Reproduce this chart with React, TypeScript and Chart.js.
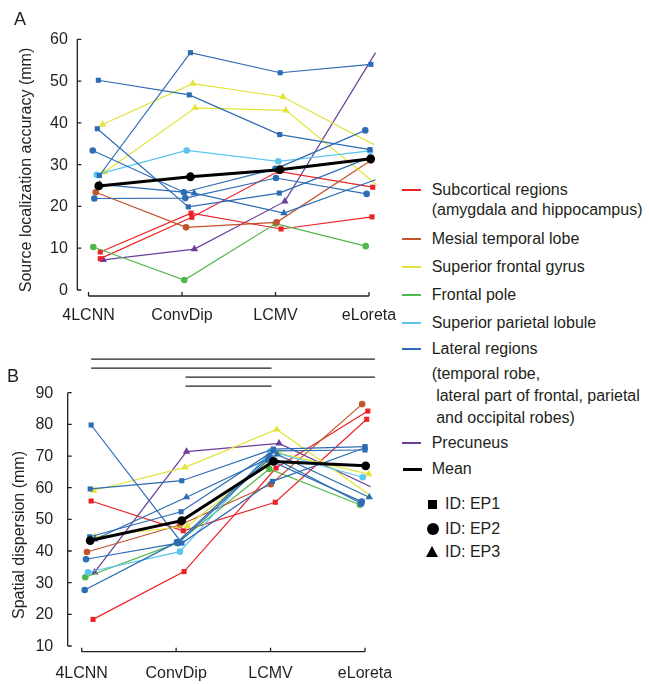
import React, { useEffect, useRef } from 'react';
import { Chart, registerables } from 'chart.js';

Chart.register(...registerables);

// ---------------- DATA ----------------
const categories = ['4LCNN', 'ConvDip', 'LCMV', 'eLoreta'];
const yTicksA = [0, 10, 20, 30, 40, 50, 60];
const yTicksB = [10, 20, 30, 40, 50, 60, 70, 80, 90];
const titleA = 'Source localization accuracy (mm)';
const titleB = 'Spatial dispersion (mm)';
// significance comparisons (1-based category indices)
const sigPairs = [[1, 4], [1, 3], [2, 4], [2, 3]];

// Panel A: source localization accuracy (mm)
const accMean = [24.9, 27.1, 28.8, 31.4];
const accLateralEP1a = [50.2, 46.7, 37.2, 33.6];
const accLateralEP1b = [27.4, 56.8, 52.0, 54.0];
const accLateralEP1c = [38.6, 19.9, 23.2, 31.8];
const accLateralEP2a = [33.4, 23.4, 29.0, 38.2];
const accLateralEP2b = [21.9, 22.0, 26.8, 23.0];
const accLateralEP3 = [25.3, 23.2, 18.4, 26.4];
const accParietalEP2 = [27.6, 33.4, 30.8, 33.3];
const accGyrusEP3a = [39.6, 49.4, 46.2, 34.8];
const accGyrusEP3b = [28.2, 43.6, 43.0, 25.2];
const accMesialEP2 = [23.4, 15.0, 16.2, 31.0];
const accPoleEP2 = [10.3, 2.4, 15.9, 10.5];
const accSubcortEP1a = [9.1, 18.4, 14.6, 17.5];
const accSubcortEP1b = [7.5, 17.4, 28.4, 24.6];
const accPrecuneusEP3 = [7.2, 9.8, 21.2, 56.8];

// Panel A horizontal jitter (category units)
const jitAMean = [0.11, 0.09, 0.048, 0.018];
const jitALatEP1a = [0.105, 0.078, 0.045, 0.01];
const jitALatEP1b = [0.116, 0.09, 0.05, 0.02];
const jitALatEP1c = [0.094, 0.067, 0.04, 0.02];
const jitALatEP2a = [0.045, 0.02, 0.0, -0.04];
const jitALatEP2b = [0.062, 0.035, 0.005, -0.025];
const jitALatEP3 = [0.12, 0.13, 0.09, 0.07];
const jitAParEP2 = [0.088, 0.05, 0.03, 0.01];
const jitAGyrEP3a = [0.15, 0.115, 0.08, 0.053];
const jitAGyrEP3b = [0.17, 0.14, 0.11, 0.083];
const jitAMesEP2 = [0.077, 0.043, 0.012, 0.02];
const jitAPoleEP2 = [0.051, 0.025, 0.002, -0.035];
const jitASubEP1a = [0.126, 0.097, 0.059, 0.032];
const jitASubEP1b = [0.126, 0.105, 0.03, 0.04];
const jitAPreEP3 = [0.158, 0.132, 0.1, 0.07];

// Panel B: spatial dispersion (mm)
const dispMean = [43.3, 49.6, 68.3, 66.9];
const dispLateralEP1a = [79.8, 42.5, 62.0, 72.6];
const dispLateralEP1b = [59.6, 62.2, 72.2, 73.0];
const dispLateralEP1c = [44.5, 52.4, 71.6, 71.9];
const dispLateralEP2a = [37.4, 42.5, 68.8, 55.6];
const dispLateralEP2b = [27.7, 42.8, 70.0, 55.0];
const dispLateralEP3 = [43.7, 57.0, 70.5, 57.0];
const dispParietalEP2 = [33.3, 39.8, 71.5, 63.3];
const dispGyrusEP3a = [59.1, 66.4, 78.4, 57.4];
const dispGyrusEP3b = [44.5, 47.9, 70.9, 64.3];
const dispMesialEP2 = [39.7, 48.2, 61.1, 86.4];
const dispPoleEP2 = [31.7, 42.5, 65.9, 54.6];
const dispSubcortEP1a = [55.8, 46.4, 55.4, 81.6];
const dispSubcortEP1b = [18.4, 33.5, 66.2, 84.2];
const dispPrecuneusEP3 = [33.3, 71.4, 74.0, 60.3];

// Panel B horizontal jitter (category units)
const jitBMean = [0.09, 0.06, 0.03, 0.007];
const jitBLatEP1a = [0.1, 0.062, 0.02, 0.0];
const jitBLatEP1b = [0.09, 0.06, 0.03, 0.0];
const jitBLatEP1c = [0.085, 0.052, 0.03, 0.0];
const jitBLatEP2a = [0.046, 0.02, -0.026, -0.035];
const jitBLatEP2b = [0.032, 0.01, -0.01, -0.04];
const jitBLatEP3 = [0.14, 0.11, 0.07, 0.045];
const jitBParEP2 = [0.067, 0.04, 0.0, -0.024];
const jitBGyrEP3a = [0.127, 0.094, 0.066, 0.064];
const jitBGyrEP3b = [0.14, 0.12, 0.093, 0.04];
const jitBMesEP2 = [0.056, 0.04, 0.002, -0.03];
const jitBPoleEP2 = [0.038, 0.01, -0.013, -0.053];
const jitBSubEP1a = [0.1, 0.076, 0.05, 0.018];
const jitBSubEP1b = [0.12, 0.084, 0.058, 0.03];
const jitBPreEP3 = [0.138, 0.11, 0.09, 0.06];

// legend texts
const legendRegionKeys = ['subcortical', 'mesial', 'gyrus', 'pole', 'parietal', 'lateral', 'precuneus', 'mean'];
const legendRegionLines = [
  ['Subcortical regions', '(amygdala and hippocampus)'],
  ['Mesial temporal lobe'],
  ['Superior frontal gyrus'],
  ['Frontal pole'],
  ['Superior parietal lobule'],
  ['Lateral regions', '(temporal robe,', ' lateral part of frontal, parietal', ' and occipital robes)'],
  ['Precuneus'],
  ['Mean'],
];
const legendIdShapes = ['rect', 'circle', 'triangle'];
const legendIdLabels = ['ID: EP1', 'ID: EP2', 'ID: EP3'];

// ---------------- STYLE ----------------
type Shape = 'rect' | 'circle' | 'triangle';
interface Series { region: string; shape: Shape; values: number[]; jitter: number[] }

const COLORS: Record<string, string> = {
  subcortical: '#ec2227',
  mesial: '#c2532a',
  gyrus: '#e3e33a',
  pole: '#52b74a',
  parietal: '#5bc5ef',
  lateral: '#2c6cb4',
  precuneus: '#6a3e98',
  mean: '#000000',
};
const TEXT = '#231f20';
const FONT = '"Liberation Sans", Arial, Helvetica, sans-serif';

const seriesA: Series[] = [
  { region: 'lateral', shape: 'rect', values: accLateralEP1a, jitter: jitALatEP1a },
  { region: 'lateral', shape: 'rect', values: accLateralEP1b, jitter: jitALatEP1b },
  { region: 'lateral', shape: 'rect', values: accLateralEP1c, jitter: jitALatEP1c },
  { region: 'lateral', shape: 'circle', values: accLateralEP2a, jitter: jitALatEP2a },
  { region: 'lateral', shape: 'circle', values: accLateralEP2b, jitter: jitALatEP2b },
  { region: 'lateral', shape: 'triangle', values: accLateralEP3, jitter: jitALatEP3 },
  { region: 'parietal', shape: 'circle', values: accParietalEP2, jitter: jitAParEP2 },
  { region: 'gyrus', shape: 'triangle', values: accGyrusEP3a, jitter: jitAGyrEP3a },
  { region: 'gyrus', shape: 'triangle', values: accGyrusEP3b, jitter: jitAGyrEP3b },
  { region: 'mesial', shape: 'circle', values: accMesialEP2, jitter: jitAMesEP2 },
  { region: 'pole', shape: 'circle', values: accPoleEP2, jitter: jitAPoleEP2 },
  { region: 'subcortical', shape: 'rect', values: accSubcortEP1a, jitter: jitASubEP1a },
  { region: 'subcortical', shape: 'rect', values: accSubcortEP1b, jitter: jitASubEP1b },
  { region: 'precuneus', shape: 'triangle', values: accPrecuneusEP3, jitter: jitAPreEP3 },
];

const seriesB: Series[] = [
  { region: 'lateral', shape: 'rect', values: dispLateralEP1a, jitter: jitBLatEP1a },
  { region: 'lateral', shape: 'rect', values: dispLateralEP1b, jitter: jitBLatEP1b },
  { region: 'lateral', shape: 'rect', values: dispLateralEP1c, jitter: jitBLatEP1c },
  { region: 'lateral', shape: 'circle', values: dispLateralEP2a, jitter: jitBLatEP2a },
  { region: 'lateral', shape: 'circle', values: dispLateralEP2b, jitter: jitBLatEP2b },
  { region: 'lateral', shape: 'triangle', values: dispLateralEP3, jitter: jitBLatEP3 },
  { region: 'parietal', shape: 'circle', values: dispParietalEP2, jitter: jitBParEP2 },
  { region: 'gyrus', shape: 'triangle', values: dispGyrusEP3a, jitter: jitBGyrEP3a },
  { region: 'gyrus', shape: 'triangle', values: dispGyrusEP3b, jitter: jitBGyrEP3b },
  { region: 'mesial', shape: 'circle', values: dispMesialEP2, jitter: jitBMesEP2 },
  { region: 'pole', shape: 'circle', values: dispPoleEP2, jitter: jitBPoleEP2 },
  { region: 'subcortical', shape: 'rect', values: dispSubcortEP1a, jitter: jitBSubEP1a },
  { region: 'subcortical', shape: 'rect', values: dispSubcortEP1b, jitter: jitBSubEP1b },
  { region: 'precuneus', shape: 'triangle', values: dispPrecuneusEP3, jitter: jitBPreEP3 },
];

const radiusFor = (s: Shape) => (s === 'rect' ? 3.6 : s === 'circle' ? 3.3 : 4.3);

function buildDatasets(series: Series[], mean: number[], meanJit: number[]) {
  const ds: any[] = [
    {
      data: mean.map((v, i) => ({ x: i + 1 + meanJit[i], y: v })),
      borderColor: COLORS.mean,
      backgroundColor: COLORS.mean,
      borderWidth: 3,
      pointStyle: 'circle',
      pointRadius: 4.4,
      pointBorderWidth: 0,
      pointBackgroundColor: COLORS.mean,
      clip: false,
    },
  ];
  series.forEach((s) => {
    const c = COLORS[s.region];
    ds.push({
      data: s.values.map((v, i) => ({ x: i + 1 + s.jitter[i], y: v })),
      borderColor: c,
      backgroundColor: c,
      borderWidth: 1.2,
      pointStyle: s.shape,
      pointRadius: radiusFor(s.shape),
      pointBorderWidth: 0,
      pointBackgroundColor: c,
      clip: false,
    });
  });
  return ds;
}

interface AxesCfg {
  yTicks: number[];
  yLabelGap: number;
  xAxisGap: number;
  xLabelY: number;
  title: string;
  titleX: number;
  titleY: number;
  sig?: boolean;
}

function makeAxesPlugin(p: AxesCfg) {
  return {
    id: 'customAxes',
    beforeDatasetsDraw(chart: any) {
      const { ctx, chartArea, scales } = chart;
      const xs = scales.x;
      const ys = scales.y;
      ctx.save();
      ctx.strokeStyle = TEXT;
      ctx.fillStyle = TEXT;
      ctx.lineWidth = 1.3;
      ctx.font = `16px ${FONT}`;
      // y axis
      const ax = chartArea.left;
      ctx.beginPath();
      ctx.moveTo(ax, ys.getPixelForValue(p.yTicks[p.yTicks.length - 1]));
      ctx.lineTo(ax, ys.getPixelForValue(p.yTicks[0]));
      p.yTicks.forEach((t) => {
        const py = ys.getPixelForValue(t);
        ctx.moveTo(ax, py);
        ctx.lineTo(ax + 4, py);
      });
      ctx.stroke();
      ctx.textAlign = 'right';
      ctx.textBaseline = 'middle';
      p.yTicks.forEach((t) => ctx.fillText(String(t), ax - p.yLabelGap, ys.getPixelForValue(t) + 0.5));
      // x axis
      const ay = chartArea.bottom + p.xAxisGap;
      const x0 = xs.getPixelForValue(1);
      const x1 = xs.getPixelForValue(categories.length);
      ctx.beginPath();
      ctx.moveTo(x0, ay);
      ctx.lineTo(x1, ay);
      categories.forEach((_c, i) => {
        const px = xs.getPixelForValue(i + 1);
        ctx.moveTo(px, ay);
        ctx.lineTo(px, ay - 4);
      });
      ctx.stroke();
      ctx.textAlign = 'center';
      categories.forEach((c, i) => ctx.fillText(c, xs.getPixelForValue(i + 1), p.xLabelY));
      // y title
      ctx.save();
      ctx.translate(p.titleX, p.titleY);
      ctx.rotate(-Math.PI / 2);
      ctx.fillText(p.title, 0, 0);
      ctx.restore();
      // significance lines
      if (p.sig) {
        ctx.lineWidth = 1.3;
        sigPairs.forEach(([a, b], k) => {
          const yy = chartArea.top - 33.5 + k * 9;
          const xa = xs.getPixelForValue(a + 0.1);
          const xb = xs.getPixelForValue(b + (b === categories.length ? 0.105 : 0.01));
          ctx.beginPath();
          ctx.moveTo(xa, yy);
          ctx.lineTo(xb, yy);
          ctx.stroke();
        });
      }
      ctx.restore();
    },
  };
}

function Panel(props: {
  top: number;
  width: number;
  height: number;
  padding: { left: number; right: number; top: number; bottom: number };
  xMin: number;
  yMin: number;
  yMax: number;
  datasets: any[];
  axes: AxesCfg;
}) {
  const ref = useRef<HTMLCanvasElement | null>(null);
  useEffect(() => {
    if (!ref.current) return;
    const chart = new Chart(ref.current, {
      type: 'line',
      data: { datasets: props.datasets },
      options: {
        animation: false,
        responsive: false,
        devicePixelRatio: 1,
        layout: { padding: props.padding },
        plugins: { legend: { display: false }, tooltip: { enabled: false } },
        scales: {
          x: { type: 'linear', min: props.xMin, max: categories.length, display: false },
          y: { type: 'linear', min: props.yMin, max: props.yMax, display: false },
        },
        elements: { line: { tension: 0 } },
      },
      plugins: [makeAxesPlugin(props.axes)],
    } as any);
    return () => chart.destroy();
  }, []);
  return (
    <canvas
      ref={ref}
      width={props.width}
      height={props.height}
      style={{ position: 'absolute', left: 0, top: props.top, width: props.width, height: props.height }}
    />
  );
}

// legend layout (pixel centers of each text row)
const regionRowY = [[190, 209.5], [238.7], [267], [295.3], [323.3], [349.3, 373.5, 395.5, 418.3], [442.7], [469.3]];
const idRowY = [504, 528.7, 552];

function Marker({ shape, cx, cy }: { shape: string; cx: number; cy: number }) {
  if (shape === 'rect') {
    return <div style={{ position: 'absolute', left: cx - 4.5, top: cy - 4.5, width: 9, height: 9, background: '#000' }} />;
  }
  if (shape === 'circle') {
    return <div style={{ position: 'absolute', left: cx - 6, top: cy - 6, width: 12, height: 12, borderRadius: 6, background: '#000' }} />;
  }
  return (
    <div
      style={{
        position: 'absolute',
        left: cx - 6.5,
        top: cy - 6,
        width: 0,
        height: 0,
        borderLeft: '6.5px solid transparent',
        borderRight: '6.5px solid transparent',
        borderBottom: '11px solid #000',
      }}
    />
  );
}

export default function App() {
  const textStyle = (left: number, cy: number): React.CSSProperties => ({
    position: 'absolute',
    left,
    top: cy - 9,
    fontSize: 16,
    lineHeight: '18px',
    fontFamily: FONT,
    color: TEXT,
    whiteSpace: 'pre',
  });
  return (
    <div style={{ position: 'fixed', left: 0, top: 0, width: 649, height: 684, background: '#fff', overflow: 'hidden' }}>
      <Panel
        top={0}
        width={400}
        height={330}
        padding={{ left: 77.3, right: 31, top: 39.3, bottom: 40 }}
        xMin={0.88}
        yMin={0}
        yMax={60}
        datasets={buildDatasets(seriesA, accMean, jitAMean)}
        axes={{ yTicks: yTicksA, yLabelGap: 9.5, xAxisGap: 6, xLabelY: 315.5, title: titleA, titleX: 27, titleY: 170 }}
      />
      <Panel
        top={330}
        width={400}
        height={354}
        padding={{ left: 67.7, right: 35, top: 62.7, bottom: 38 }}
        xMin={0.852}
        yMin={10}
        yMax={90}
        datasets={buildDatasets(seriesB, dispMean, jitBMean)}
        axes={{ yTicks: yTicksB, yLabelGap: 14.5, xAxisGap: 5.7, xLabelY: 343.5, title: titleB, titleX: 20, titleY: 205, sig: true }}
      />
      <div style={{ ...textStyle(14, 19), fontSize: 18, transform: 'translateX(0)' }}>A</div>
      <div style={{ ...textStyle(7, 376), fontSize: 18 }}>B</div>
      {legendRegionKeys.map((key, r) => (
        <React.Fragment key={key}>
          <div
            style={{
              position: 'absolute',
              left: key === 'mean' ? 402.7 : 401.7,
              top: regionRowY[r][0] - 1.1,
              width: 19,
              height: key === 'mean' ? 2.6 : 2.2,
              background: COLORS[key],
            }}
          />
          {legendRegionLines[r].map((line, j) => (
            <div key={j} style={textStyle(431.7, regionRowY[r][j])}>
              {line}
            </div>
          ))}
        </React.Fragment>
      ))}
      {legendIdShapes.map((s, i) => (
        <React.Fragment key={s}>
          <Marker shape={s} cx={432.5} cy={idRowY[i]} />
          <div style={textStyle(445, idRowY[i])}>{legendIdLabels[i]}</div>
        </React.Fragment>
      ))}
    </div>
  );
}
